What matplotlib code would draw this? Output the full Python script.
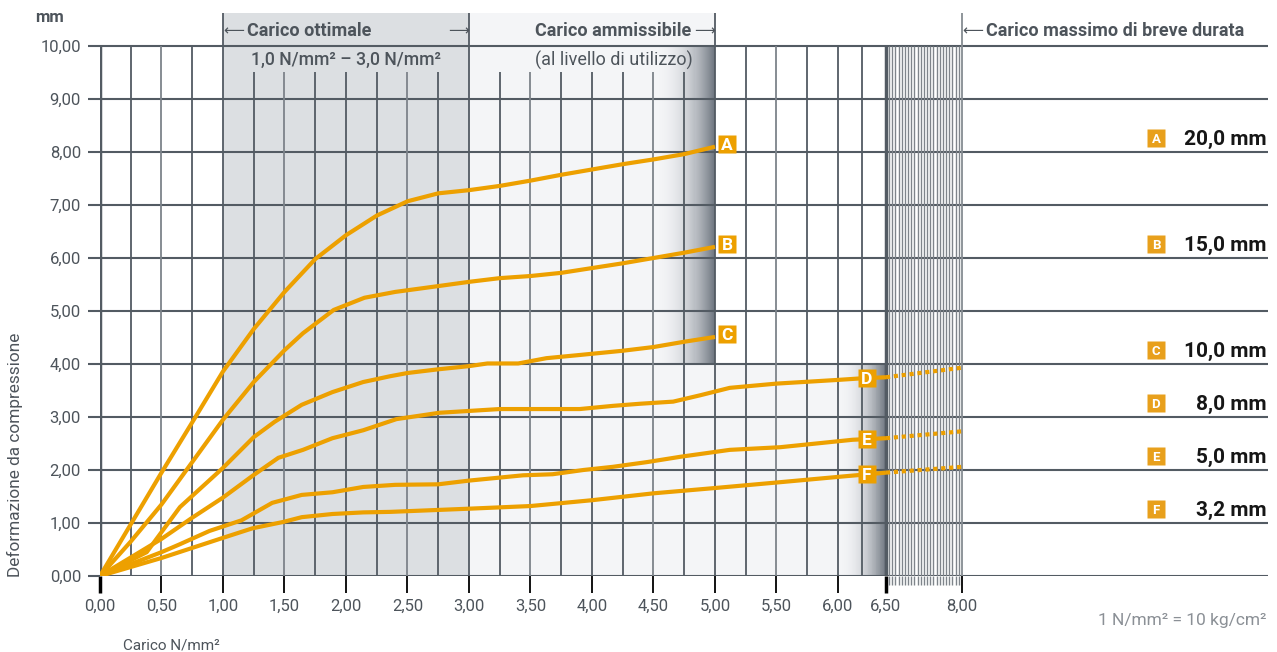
import numpy as np
import matplotlib.pyplot as plt
from matplotlib.ticker import FixedLocator
from matplotlib.transforms import blended_transform_factory

plt.rcParams['font.family'] = ['Roboto', 'DejaVu Sans']

# Curve carico (N/mm²) - deformazione (mm) per i diversi spessori
a_x = [0, 0.5, 0.75, 1.0, 1.25, 1.5, 1.75, 2.0, 2.25, 2.5, 2.75, 3.0, 3.25, 3.5, 3.75, 4.0, 4.25, 4.5, 4.75, 5.0]
a_y = [0, 1.95, 2.90, 3.86, 4.66, 5.36, 5.98, 6.43, 6.80, 7.07, 7.22, 7.28, 7.36, 7.46, 7.57, 7.67, 7.77, 7.86, 7.96, 8.10]

b_x = [0, 0.25, 0.5, 0.75, 1.0, 1.25, 1.5, 1.65, 1.9, 2.15, 2.4, 2.75, 3.0, 3.25, 3.5, 3.75, 4.0, 4.25, 4.5, 4.75, 5.0]
b_y = [0, 0.65, 1.35, 2.15, 2.95, 3.66, 4.26, 4.58, 5.02, 5.25, 5.36, 5.47, 5.55, 5.62, 5.66, 5.72, 5.81, 5.90, 6.00, 6.10, 6.21]

c_x = [0, 0.38, 0.65, 1.0, 1.25, 1.42, 1.64, 1.89, 2.14, 2.36, 2.5, 2.75, 3.0, 3.15, 3.4, 3.63, 3.9, 4.25, 4.5, 4.75, 5.0]
c_y = [0, 0.45, 1.30, 2.04, 2.62, 2.91, 3.23, 3.47, 3.66, 3.77, 3.83, 3.90, 3.96, 4.01, 4.01, 4.11, 4.17, 4.25, 4.32, 4.42, 4.51]

d_x = [0, 0.5, 0.75, 1.0, 1.24, 1.45, 1.65, 1.89, 2.14, 2.41, 2.76, 3.25, 3.9, 4.17, 4.39, 4.66, 4.88, 5.12, 5.5, 6.0, 6.25, 6.5]
d_y = [0, 0.70, 1.10, 1.48, 1.89, 2.23, 2.38, 2.60, 2.75, 2.96, 3.08, 3.15, 3.15, 3.21, 3.25, 3.29, 3.41, 3.55, 3.63, 3.70, 3.73, 3.75]

e_x = [0, 0.5, 0.65, 0.89, 1.15, 1.4, 1.64, 1.89, 2.14, 2.4, 2.75, 3.0, 3.44, 3.68, 3.93, 4.17, 4.45, 4.72, 5.12, 5.53, 6.15, 6.5]
e_y = [0, 0.45, 0.60, 0.85, 1.05, 1.38, 1.53, 1.58, 1.68, 1.72, 1.73, 1.80, 1.90, 1.92, 2.00, 2.06, 2.15, 2.25, 2.38, 2.43, 2.57, 2.60]

f_x = [0, 0.5, 1.0, 1.24, 1.49, 1.64, 1.89, 2.14, 2.36, 3.0, 3.5, 4.0, 4.5, 5.0, 5.53, 6.0, 6.5]
f_y = [0, 0.34, 0.72, 0.90, 1.02, 1.11, 1.17, 1.20, 1.21, 1.27, 1.32, 1.43, 1.56, 1.66, 1.77, 1.87, 1.95]

# prolungamento tratteggiato (carico massimo di breve durata)
d_ext_x, d_ext_y = [6.5, 8.0], [3.75, 3.93]
e_ext_x, e_ext_y = [6.5, 8.0], [2.60, 2.73]
f_ext_x, f_ext_y = [6.5, 8.0], [1.95, 2.06]

lettere = ['A', 'B', 'C', 'D', 'E', 'F']
spessori = ['20,0 mm', '15,0 mm', '10,0 mm', '8,0 mm', '5,0 mm', '3,2 mm']
livelli_legenda = [8, 6, 4, 3, 2, 1]

tick_x = [0, 0.5, 1.0, 1.5, 2.0, 2.5, 3.0, 3.5, 4.0, 4.5, 5.0, 5.5, 6.0, 6.5, 8.0]
tick_y = list(range(11))

ARANCIO = '#eda000'
SCURO = '#535b63'
MEDIO = '#7d838a'
CHIARO = '#868c92'
TESTO = '#4d545b'

# asse x non lineare: tratto 6-8 compresso
X_NODI = [0.0, 6.0, 6.5, 8.0, 30.0]
U_NODI = [0.0, 6.0, 6.39, 7.008, 7.008 + 22 * 0.412]


def avanti(x):
    return np.interp(np.asarray(x, dtype=float), X_NODI, U_NODI)


def indietro(u):
    return np.interp(np.asarray(u, dtype=float), U_NODI, X_NODI)


def sfumatura(ax, x0, x1, y0, y1, n=60):
    """Riempie una fascia con gradiente dal chiaro allo scuro."""
    chiaro = np.array([0.957, 0.961, 0.969])
    scuro = np.array([0.42, 0.45, 0.49])
    bordi = np.linspace(x0, x1, n + 1)
    for i in range(n):
        t = (i + 0.5) / n
        c = chiaro + (scuro - chiaro) * t ** 2.2
        ax.fill_between([bordi[i], bordi[i + 1]], y0, y1, color=c, lw=0, zorder=0.5)


fig = plt.figure(figsize=(12.77, 6.52), dpi=100)
ax = fig.add_axes([100 / 1277, 76 / 652, 1168 / 1277, 563 / 652])
ax.set_xscale('function', functions=(avanti, indietro))
x_max = float(indietro(9.496))
y_top = 563 / 53
ax.set_xlim(0, x_max)
ax.set_ylim(0, y_top)
for s in ax.spines.values():
    s.set_visible(False)

# zone di carico
ax.fill_between([1.0, 3.0], 0, y_top, color='#dcdfe2', lw=0, zorder=0)
ax.fill_between([3.0, 5.0], 4.0, y_top, color='#f4f5f7', lw=0, zorder=0)
ax.fill_between([3.0, 6.5], 0, 4.0, color='#f4f5f7', lw=0, zorder=0)
sfumatura(ax, 4.5, 5.0, 4.0, 10.0)
sfumatura(ax, 6.0, 6.5, 0.0, 4.0)

# griglia orizzontale
ax.hlines(tick_y, 0, x_max, color=SCURO, lw=1.5, zorder=1)

# griglia verticale
quarti = np.arange(0.25, 6.5, 0.25)
for q in quarti:
    mezzo = abs(q * 2 - round(q * 2)) < 1e-6 and abs(q - round(q)) > 1e-6
    col = MEDIO if mezzo else SCURO
    if q in (1.0, 3.0, 5.0):
        top = y_top
    elif 1.0 < q < 5.0:
        top = (576 - 72) / 53
    else:
        top = 10
    ax.vlines(q, 0, top, color=col, lw=1.3, zorder=1)
ax.vlines(0, 0, 10, color=SCURO, lw=2.5, zorder=1.2)
ax.vlines(6.5, 0, 10, color=SCURO, lw=2.5, zorder=1.2)
fitte = np.linspace(6.5, 8.0, 25)[1:-1]
ax.vlines(fitte, 0, 10, color='#7f858b', lw=1.0, zorder=1)
ax.vlines(8.0, 0, y_top, color=CHIARO, lw=1.3, zorder=1)

# tacche e etichette
ax.xaxis.set_major_locator(FixedLocator(tick_x))
ax.set_xticklabels([f'{v:.2f}'.replace('.', ',') for v in tick_x])
ax.xaxis.set_minor_locator(FixedLocator(fitte))
ax.yaxis.set_major_locator(FixedLocator(tick_y))
ax.set_yticklabels([f'{v:.2f}'.replace('.', ',') for v in tick_y])
ax.tick_params(axis='x', which='major', length=12.2, width=1.3, pad=4, labelsize=12, labelcolor=TESTO)
ax.tick_params(axis='x', which='minor', length=6.5, width=1.0, color='#7f858b')
ax.tick_params(axis='y', length=8.6, width=1.5, color=SCURO, pad=5, labelsize=12, labelcolor=TESTO)
for tick, v in zip(ax.xaxis.get_major_ticks(), tick_x):
    mezzo = abs(v - round(v)) > 1e-6 and v != 6.5
    tick.tick1line.set_color(MEDIO if mezzo else (CHIARO if v == 8.0 else SCURO))
    if v in (0, 6.5):
        tick.tick1line.set_markeredgewidth(2.5)

# curve
serie = [(a_x, a_y), (b_x, b_y), (c_x, c_y), (d_x, d_y), (e_x, e_y), (f_x, f_y)]
for xs, ys in serie:
    ax.plot(xs, ys, color=ARANCIO, lw=3, solid_joinstyle='round', solid_capstyle='butt', zorder=3)
for xs, ys in [(d_ext_x, d_ext_y), (e_ext_x, e_ext_y), (f_ext_x, f_ext_y)]:
    ax.plot(xs, ys, color=ARANCIO, lw=3, ls=(0, (1, 0.9)), dash_capstyle='butt', zorder=3)

# riquadri con lettera a fine curva
for (xs, ys), lett in zip(serie, lettere):
    xe = 5.1 if xs[-1] <= 5.0 else 6.3
    ye = np.interp(xe, xs, ys) if xe <= xs[-1] else ys[-1] + 0.05
    ax.plot([xe], [ye], marker='s', ms=13.5, color=ARANCIO, mec='none', zorder=4)
    ax.text(xe, ye, lett, color='white', fontsize=12.5, fontweight='bold', ha='center', va='center_baseline', zorder=5)

# legenda a destra
tr = blended_transform_factory(ax.transAxes, ax.transData)
for lett, sp, lv in zip(lettere, spessori, livelli_legenda):
    yy = lv + 0.27
    ax.plot([(1156 - 100) / 1168], [yy], marker='s', ms=13, color='#e8a01c', mec='none', transform=tr, clip_on=False, zorder=4)
    ax.text((1156 - 100) / 1168, yy, lett, color='white', fontsize=9.5, fontweight='bold', ha='center',
            va='center_baseline', transform=tr, zorder=5)
    ax.text(0.9985, yy, sp, color='#161616', fontsize=15, fontweight='bold', ha='right',
            va='center_baseline', transform=tr)

# intestazioni delle zone
yh = (576 - 31) / 53
ys2 = (576 - 60) / 53
FR = dict(fontsize=10.5, color=TESTO, va='center', family='DejaVu Sans')
ax.text(1.0, yh, '⟵', ha='left', **FR)
ax.annotate('Carico ottimale', (1.0, yh), xytext=(17, 0), textcoords='offset points', fontsize=13,
            fontweight='bold', color=TESTO, ha='left', va='center')
ax.text(3.0, yh, '⟶', ha='right', **FR)
ax.text(2.0, ys2, '1,0 N/mm² – 3,0 N/mm²', fontsize=12.7, fontweight='medium', color=TESTO, ha='center', va='center')
ax.text(5.0, yh, '⟶', ha='right', **FR)
ax.annotate('Carico ammissibile', (5.0, yh), xytext=(-17, 0), textcoords='offset points', fontsize=13,
            fontweight='bold', color=TESTO, ha='right', va='center')
ax.text(4.82, ys2, '(al livello di utilizzo)', fontsize=13, color=TESTO, ha='right', va='center')
ax.text(8.0, yh, '⟵', ha='left', **FR)
ax.annotate('Carico massimo di breve durata', (8.0, yh), xytext=(17, 0), textcoords='offset points', fontsize=13,
            fontweight='bold', color=TESTO, ha='left', va='center')

# testi esterni
fig.text(50 / 1277, (652 - 18) / 652, 'mm', fontsize=12, fontweight='bold', color=TESTO, ha='center', va='center')
fig.text(15 / 1277, (652 - 455) / 652, 'Deformazione da compressione', fontsize=12.4, color=TESTO,
         rotation=90, ha='center', va='center')
fig.text(123 / 1277, (652 - 645) / 652, 'Carico N/mm²', fontsize=11, color=TESTO, ha='left', va='center')
fig.text(1266 / 1277, (652 - 620) / 652, '1 N/mm² = 10 kg/cm²', fontsize=12.5, color='#8b9096', ha='right', va='center')

fig.savefig('out.png', dpi=100)
